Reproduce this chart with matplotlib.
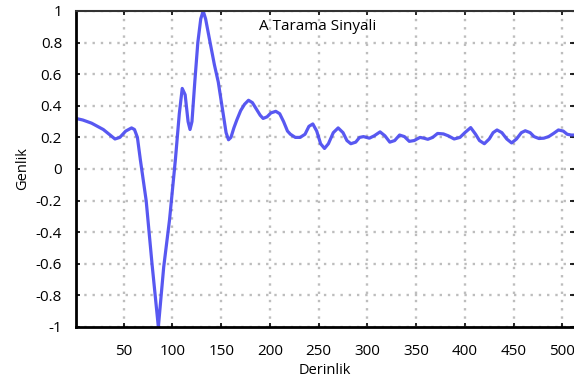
import matplotlib.pyplot as plt

plt.rcParams['font.family'] = ['Open Sans', 'DejaVu Sans']

# A-scan signal
derinlik = [1, 8, 17, 29, 41, 46, 52, 58, 61, 64, 67, 73, 79, 85.5, 91, 97, 103,
            107, 110, 113, 116, 118, 120, 123, 126, 129, 131.5, 134, 138, 143,
            147, 152, 155, 157.5, 160, 163, 166, 170, 174, 178, 182, 186, 190,
            193, 197, 201, 206, 210, 214, 218, 221, 226, 231, 236, 240, 244,
            248, 252, 256, 260, 265, 270, 275, 279, 283, 288, 292, 296, 302,
            307, 313, 318, 323, 328, 333, 338, 343, 348, 354, 358, 362, 367,
            372, 378, 383, 389, 395, 400, 406, 411, 415, 420, 425, 429, 433,
            438, 443, 448, 453, 458, 462, 467, 471, 476, 481, 486, 491, 496,
            501, 505, 509, 512]
genlik = [0.32, 0.31, 0.29, 0.25, 0.19, 0.2, 0.24, 0.26, 0.25, 0.2, 0.06, -0.2,
          -0.6, -1.0, -0.62, -0.32, 0.06, 0.35, 0.51, 0.47, 0.3, 0.25, 0.3,
          0.56, 0.8, 0.95, 1.0, 0.95, 0.82, 0.66, 0.55, 0.35, 0.23, 0.185, 0.2,
          0.26, 0.31, 0.37, 0.41, 0.435, 0.42, 0.38, 0.34, 0.32, 0.33, 0.355,
          0.365, 0.35, 0.3, 0.24, 0.22, 0.2, 0.2, 0.22, 0.27, 0.285, 0.24,
          0.16, 0.13, 0.16, 0.23, 0.26, 0.23, 0.18, 0.16, 0.17, 0.2, 0.205,
          0.195, 0.21, 0.235, 0.21, 0.17, 0.18, 0.215, 0.205, 0.175, 0.18,
          0.2, 0.195, 0.188, 0.2, 0.225, 0.222, 0.21, 0.19, 0.2, 0.23, 0.262,
          0.22, 0.18, 0.16, 0.19, 0.23, 0.247, 0.23, 0.19, 0.165, 0.19, 0.23,
          0.242, 0.23, 0.205, 0.193, 0.195, 0.205, 0.225, 0.247, 0.24, 0.22,
          0.215, 0.215]

xticks = [50, 100, 150, 200, 250, 300, 350, 400, 450, 500]
yticks = [-1, -0.8, -0.6, -0.4, -0.2, 0, 0.2, 0.4, 0.6, 0.8, 1]
ytick_labels = ['-1', '-0.8', '-0.6', '-0.4', '-0.2', '0', '0.2', '0.4', '0.6', '0.8', '1']

fig = plt.figure(figsize=(5.74, 3.84), dpi=100)
ax = fig.add_axes([76/574, 57/384, 498/574, 316/384])

ax.plot(derinlik, genlik, color='#4646f0', lw=2.3, alpha=0.9,
        solid_joinstyle='round', solid_capstyle='round')

ax.set_xlim(1, 512)
ax.set_ylim(-1, 1)
ax.set_xticks(xticks)
ax.set_xticklabels([str(t) for t in xticks])
ax.set_yticks(yticks)
ax.set_yticklabels(ytick_labels)
ax.grid(True, color='#bdbdbd', linestyle=(0, (1, 2.5)), linewidth=1.7)

ax.tick_params(direction='in', length=3, width=1.2, top=True, right=True,
               labelsize=11, colors='black')
ax.tick_params(axis='y', pad=10)
ax.tick_params(axis='x', pad=12)

for side in ['left', 'bottom']:
    ax.spines[side].set_linewidth(2)
ax.spines['top'].set_linewidth(1.5)
ax.spines['top'].set_color('#333333')
ax.spines['right'].set_visible(False)

ax.set_xlabel('Derinlik', fontsize=10.5, labelpad=3)
ax.set_ylabel('Genlik', fontsize=10.5, labelpad=4)

ax.text(249, 0.9, 'A Tarama Sinyali', fontsize=11, ha='center', va='center')

fig.savefig('out.png', dpi=100)
